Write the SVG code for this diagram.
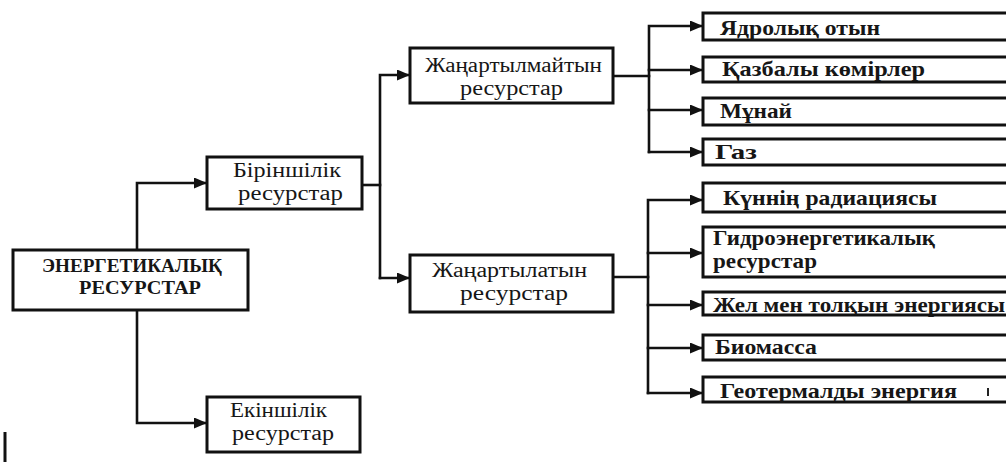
<svg xmlns="http://www.w3.org/2000/svg" width="1006" height="462" viewBox="0 0 1006 462">
  <style>
    .box { fill: #ffffff; stroke: #111111; stroke-width: 3; }
    .wire { fill: none; stroke: #111111; stroke-width: 2.6; stroke-linecap: square; }
    .reg { font-family: "Liberation Serif", "DejaVu Serif", serif; font-size: 20px; fill: #161616; }
    .bold { font-family: "Liberation Serif", "DejaVu Serif", serif; font-size: 21px; font-weight: bold; fill: #161616; }
    .head { font-family: "Liberation Serif", "DejaVu Serif", serif; font-size: 19px; font-weight: bold; fill: #161616; text-anchor: middle; }
  </style>
  <defs>
    <marker id="arrow" markerUnits="userSpaceOnUse" markerWidth="14" markerHeight="12" refX="13" refY="5.5" orient="auto">
      <path d="M0,0 L13,5.5 L0,11 Z" fill="#111111"/>
    </marker>
  </defs>
  <rect width="1006" height="462" fill="#ffffff"/>

  <!-- connectors -->
  <g id="connectors">
    <path class="wire" d="M137 250 V183 H207" marker-end="url(#arrow)"/>
    <path class="wire" d="M137 310 V423 H207" marker-end="url(#arrow)"/>
    <path class="wire" d="M362 185 H380"/>
    <path class="wire" d="M380 278 V75 H410" marker-end="url(#arrow)"/>
    <path class="wire" d="M380 278 H410" marker-end="url(#arrow)"/>

    <path class="wire" d="M613 76 H649"/>
    <path class="wire" d="M649 152 V26 H703" marker-end="url(#arrow)"/>
    <path class="wire" d="M649 70 H703" marker-end="url(#arrow)"/>
    <path class="wire" d="M649 110 H703" marker-end="url(#arrow)"/>
    <path class="wire" d="M649 152 H703" marker-end="url(#arrow)"/>

    <path class="wire" d="M613 277 H648"/>
    <path class="wire" d="M648 393 V200 H703" marker-end="url(#arrow)"/>
    <path class="wire" d="M648 253 H703" marker-end="url(#arrow)"/>
    <path class="wire" d="M648 305 H703" marker-end="url(#arrow)"/>
    <path class="wire" d="M648 348 H703" marker-end="url(#arrow)"/>
    <path class="wire" d="M648 393 H703" marker-end="url(#arrow)"/>
  </g>

  <!-- root -->
  <g id="energy-resources">
    <rect class="box" x="13" y="250" width="235" height="60"/>
    <text class="head" x="132" y="272" textLength="180" lengthAdjust="spacingAndGlyphs">ЭНЕРГЕТИКАЛЫҚ</text>
    <text class="head" x="140" y="294" textLength="122" lengthAdjust="spacingAndGlyphs">РЕСУРСТАР</text>
  </g>

  <!-- second level -->
  <g id="primary">
    <rect class="box" x="207" y="157" width="155" height="52"/>
    <text class="reg" x="233" y="177" textLength="108" lengthAdjust="spacingAndGlyphs">Біріншілік</text>
    <text class="reg" x="238" y="200" textLength="105" lengthAdjust="spacingAndGlyphs">ресурстар</text>
  </g>
  <g id="secondary">
    <rect class="box" x="207" y="397" width="153" height="55"/>
    <text class="reg" x="230" y="417" textLength="97" lengthAdjust="spacingAndGlyphs">Екіншілік</text>
    <text class="reg" x="232" y="440" textLength="102" lengthAdjust="spacingAndGlyphs">ресурстар</text>
  </g>

  <!-- third level -->
  <g id="non-renewable">
    <rect class="box" x="410" y="48" width="203" height="55"/>
    <text class="reg" x="425" y="72" textLength="177" lengthAdjust="spacingAndGlyphs">Жаңартылмайтын</text>
    <text class="reg" x="460" y="95" textLength="103" lengthAdjust="spacingAndGlyphs">ресурстар</text>
  </g>
  <g id="renewable">
    <rect class="box" x="410" y="255" width="203" height="57"/>
    <text class="reg" x="432" y="277" textLength="155" lengthAdjust="spacingAndGlyphs">Жаңартылатын</text>
    <text class="reg" x="460" y="300" textLength="108" lengthAdjust="spacingAndGlyphs">ресурстар</text>
  </g>

  <!-- non-renewable kinds -->
  <g id="nuclear-fuel">
    <rect class="box" x="703" y="13" width="310" height="27"/>
    <text class="bold" x="720" y="35" textLength="160" lengthAdjust="spacingAndGlyphs">Ядролық отын</text>
  </g>
  <g id="fossil-coal">
    <rect class="box" x="703" y="57" width="310" height="25"/>
    <text class="bold" x="722" y="76" textLength="203" lengthAdjust="spacingAndGlyphs">Қазбалы көмірлер</text>
  </g>
  <g id="oil">
    <rect class="box" x="703" y="98" width="310" height="27"/>
    <text class="bold" x="720" y="118" textLength="72" lengthAdjust="spacingAndGlyphs">Мұнай</text>
  </g>
  <g id="gas">
    <rect class="box" x="703" y="139" width="310" height="26"/>
    <text class="bold" x="715" y="159" textLength="42" lengthAdjust="spacingAndGlyphs">Газ</text>
  </g>

  <!-- renewable kinds -->
  <g id="solar">
    <rect class="box" x="703" y="183" width="310" height="29"/>
    <text class="bold" x="723" y="205" textLength="214" lengthAdjust="spacingAndGlyphs">Күннің радиациясы</text>
  </g>
  <g id="hydro">
    <rect class="box" x="703" y="227" width="310" height="50"/>
    <text class="bold" x="713" y="245" textLength="222" lengthAdjust="spacingAndGlyphs">Гидроэнергетикалық</text>
    <text class="bold" x="713" y="268" textLength="104" lengthAdjust="spacingAndGlyphs">ресурстар</text>
  </g>
  <g id="wind-wave">
    <rect class="box" x="703" y="292" width="310" height="23"/>
    <text class="bold" x="713" y="312" textLength="292" lengthAdjust="spacingAndGlyphs">Жел мен толқын энергиясы</text>
  </g>
  <g id="biomass">
    <rect class="box" x="703" y="335" width="310" height="25"/>
    <text class="bold" x="715" y="354" textLength="102" lengthAdjust="spacingAndGlyphs">Биомасса</text>
  </g>
  <g id="geothermal">
    <rect class="box" x="703" y="377" width="310" height="25"/>
    <text class="bold" x="720" y="398" textLength="237" lengthAdjust="spacingAndGlyphs">Геотермалды энергия</text>
  </g>

  <!-- stray marks -->
  <line x1="988" y1="388" x2="988" y2="396" stroke="#222" stroke-width="2"/>
  <line x1="5" y1="432" x2="5" y2="462" stroke="#111" stroke-width="3"/>
</svg>
